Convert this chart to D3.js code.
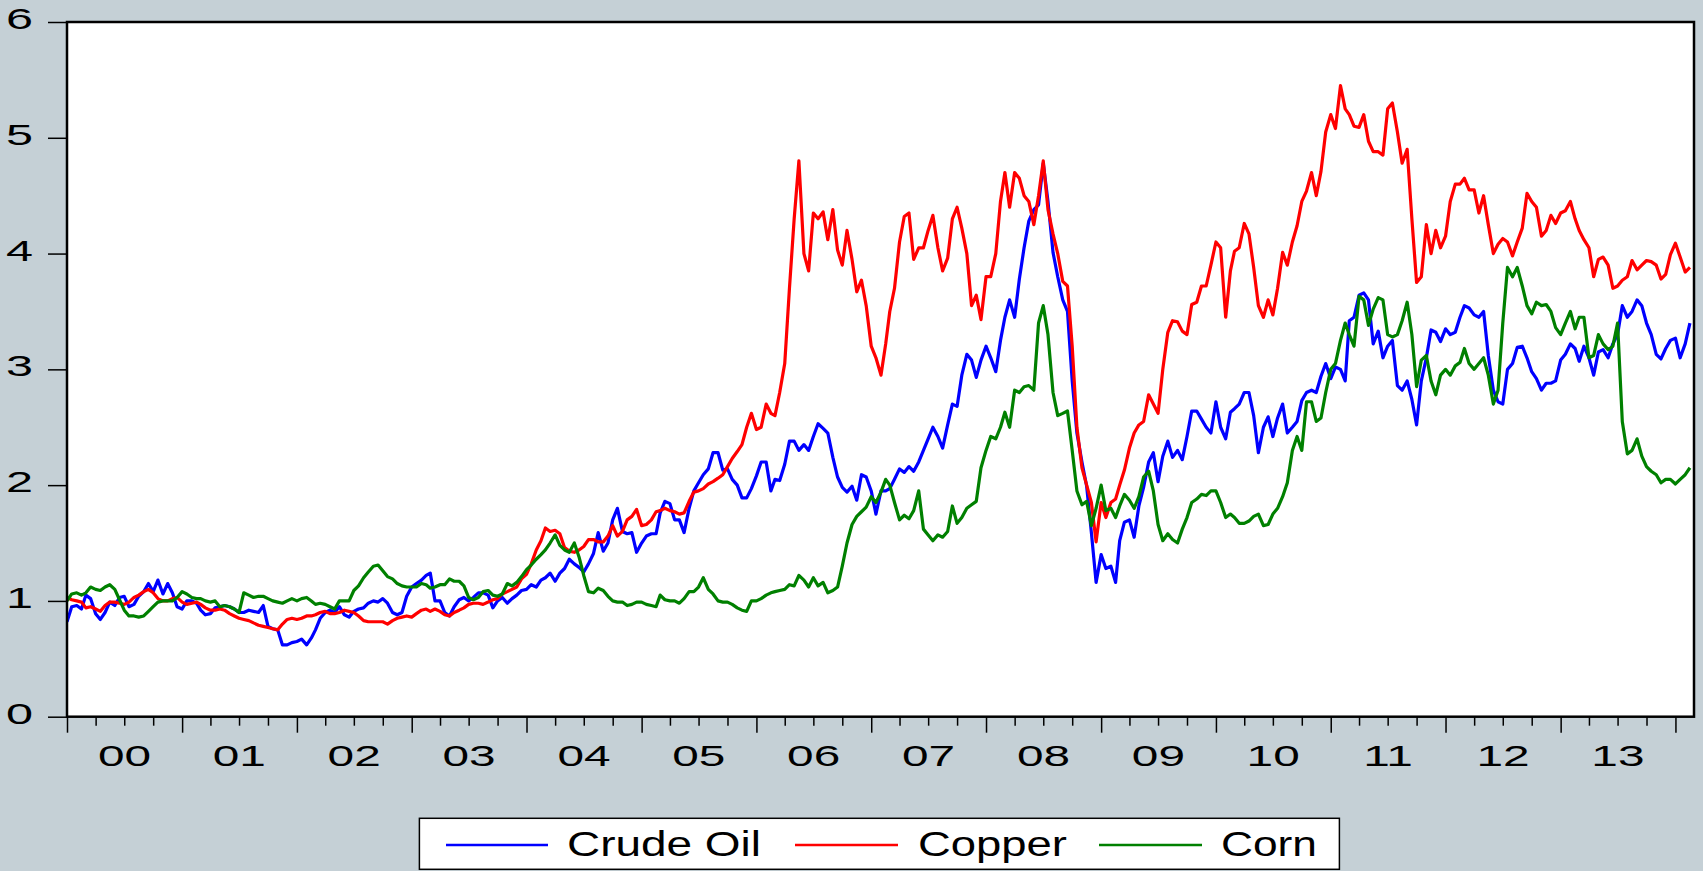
<!DOCTYPE html>
<html><head><meta charset="utf-8">
<script src="https://cdn.jsdelivr.net/npm/d3@7"></script>
<style>html,body{margin:0;padding:0;background:#c5d0d6;}svg{display:block;}</style>
</head><body><svg id="chart" width="1703" height="871"></svg>
<script>
// ---- data: semi-monthly readings (1st and 16th of each month), one row per year ----
const years = [2000,2001,2002,2003,2004,2005,2006,2007,2008,2009,2010,2011,2012,2013,2014];
const yTicks = [0,1,2,3,4,5,6];
const yearLabels = ["00","01","02","03","04","05","06","07","08","09","10","11","12","13"];
const seriesNames = ["Crude Oil","Copper","Corn"];
const seriesColors = ["#0000ff","#ff0000","#008000"];

const crudeOil = [
 [0.82,0.95,0.96,0.93,1.05,1.02,0.89,0.84,0.9,0.99,0.96,1.03,1.04,0.95,0.97,1.04,1.08,1.15,1.08,1.18,1.06,1.15,1.07,0.95],
 [0.93,1.0,1.0,0.98,0.92,0.88,0.89,0.94,0.95,0.96,0.95,0.93,0.9,0.9,0.92,0.91,0.9,0.96,0.78,0.76,0.75,0.62,0.62,0.64],
 [0.65,0.67,0.62,0.68,0.75,0.85,0.9,0.92,0.9,0.95,0.88,0.86,0.91,0.93,0.94,0.98,1.0,0.99,1.02,0.98,0.9,0.88,0.9,1.04],
 [1.12,1.15,1.18,1.22,1.24,1.0,1.0,0.9,0.87,0.95,1.01,1.03,1.0,1.03,1.07,1.07,1.05,0.94,1.0,1.03,0.98,1.02,1.05,1.09],
 [1.1,1.14,1.12,1.18,1.2,1.24,1.17,1.24,1.28,1.36,1.32,1.29,1.25,1.32,1.41,1.59,1.43,1.5,1.7,1.8,1.6,1.58,1.59,1.42],
 [1.5,1.56,1.58,1.58,1.76,1.86,1.84,1.7,1.7,1.59,1.8,1.95,2.02,2.09,2.14,2.28,2.28,2.13,2.14,2.05,2.0,1.89,1.89,1.97],
 [2.08,2.2,2.2,1.95,2.05,2.04,2.18,2.38,2.38,2.3,2.35,2.3,2.42,2.53,2.49,2.45,2.24,2.07,1.98,1.94,1.99,1.87,2.09,2.07],
 [1.95,1.75,1.95,1.95,1.97,2.05,2.14,2.11,2.16,2.12,2.2,2.3,2.4,2.5,2.42,2.32,2.52,2.7,2.68,2.95,3.13,3.08,2.93,3.08],
 [3.2,3.1,2.98,3.25,3.45,3.6,3.45,3.78,4.05,4.28,4.38,4.42,4.78,4.45,4.01,3.8,3.6,3.5,2.9,2.45,2.2,1.99,1.59,1.16],
 [1.4,1.28,1.3,1.16,1.52,1.68,1.7,1.55,1.82,1.98,2.2,2.28,2.03,2.25,2.38,2.24,2.3,2.22,2.42,2.64,2.64,2.57,2.5,2.45],
 [2.72,2.5,2.4,2.63,2.66,2.7,2.8,2.8,2.6,2.28,2.5,2.59,2.42,2.58,2.7,2.45,2.5,2.55,2.73,2.8,2.82,2.8,2.94,3.05],
 [2.92,3.02,3.0,2.9,3.42,3.45,3.64,3.66,3.6,3.22,3.33,3.1,3.2,3.25,2.86,2.82,2.9,2.74,2.52,2.9,3.1,3.34,3.32,3.24],
 [3.35,3.3,3.32,3.45,3.55,3.53,3.47,3.45,3.5,3.12,2.82,2.72,2.7,3.0,3.05,3.19,3.2,3.1,2.98,2.92,2.82,2.88,2.88,2.9],
 [3.08,3.13,3.22,3.18,3.07,3.2,3.1,2.95,3.15,3.17,3.1,3.22,3.3,3.55,3.45,3.5,3.6,3.55,3.4,3.3,3.13,3.09,3.18,3.25],
 [3.27,3.1,3.22,3.4]
];
const copper = [
 [1.03,1.01,1.0,0.99,0.94,0.95,0.93,0.91,0.96,0.99,0.99,0.98,0.97,0.99,1.03,1.05,1.08,1.1,1.07,1.02,1.0,1.0,1.02,1.03],
 [0.99,0.97,0.98,0.99,0.97,0.94,0.92,0.92,0.93,0.92,0.89,0.87,0.85,0.84,0.83,0.81,0.79,0.78,0.77,0.76,0.75,0.8,0.84,0.85],
 [0.84,0.85,0.87,0.87,0.88,0.9,0.91,0.89,0.89,0.9,0.92,0.91,0.9,0.87,0.83,0.82,0.82,0.82,0.82,0.8,0.83,0.85,0.86,0.87],
 [0.86,0.89,0.92,0.93,0.91,0.93,0.91,0.88,0.87,0.9,0.92,0.94,0.97,0.98,0.98,0.97,0.99,1.01,1.02,1.06,1.08,1.1,1.12,1.19],
 [1.23,1.32,1.44,1.52,1.63,1.6,1.61,1.58,1.46,1.43,1.42,1.44,1.47,1.53,1.53,1.51,1.51,1.56,1.65,1.56,1.6,1.7,1.73,1.79],
 [1.65,1.66,1.7,1.77,1.78,1.8,1.78,1.77,1.75,1.76,1.86,1.94,1.95,1.97,2.01,2.03,2.06,2.09,2.16,2.23,2.29,2.35,2.5,2.62],
 [2.48,2.5,2.7,2.62,2.6,2.8,3.05,3.7,4.3,4.8,4.0,3.85,4.35,4.3,4.36,4.12,4.38,4.03,3.9,4.2,3.95,3.67,3.77,3.55],
 [3.2,3.1,2.95,3.22,3.5,3.7,4.1,4.32,4.35,3.95,4.05,4.05,4.2,4.33,4.05,3.85,3.96,4.3,4.4,4.22,4.0,3.55,3.64,3.43],
 [3.8,3.8,4.0,4.45,4.7,4.4,4.7,4.65,4.5,4.45,4.25,4.5,4.8,4.38,4.17,4.0,3.76,3.72,3.2,2.5,2.15,2.0,1.85,1.51],
 [1.85,1.72,1.85,1.88,2.0,2.13,2.32,2.45,2.52,2.55,2.78,2.7,2.62,3.0,3.32,3.42,3.41,3.33,3.3,3.56,3.58,3.72,3.72,3.9],
 [4.1,4.05,3.45,3.85,4.02,4.05,4.26,4.17,3.88,3.55,3.45,3.6,3.47,3.7,4.01,3.9,4.1,4.24,4.45,4.54,4.7,4.5,4.71,5.05],
 [5.2,5.08,5.45,5.25,5.2,5.1,5.09,5.2,4.97,4.88,4.88,4.85,5.25,5.3,5.05,4.78,4.9,4.3,3.75,3.8,4.25,4.0,4.2,4.05],
 [4.15,4.45,4.6,4.6,4.65,4.55,4.55,4.35,4.5,4.25,4.0,4.08,4.13,4.1,3.98,4.1,4.22,4.52,4.45,4.4,4.15,4.2,4.33,4.26],
 [4.35,4.37,4.45,4.3,4.2,4.12,4.05,3.8,3.95,3.97,3.9,3.7,3.72,3.77,3.8,3.94,3.86,3.9,3.94,3.93,3.9,3.78,3.82,3.99],
 [4.09,3.97,3.84,3.88]
];
const corn = [
 [1.0,1.06,1.07,1.05,1.07,1.12,1.1,1.09,1.12,1.14,1.1,1.01,0.92,0.87,0.87,0.86,0.87,0.91,0.95,0.99,1.0,1.0,1.0,1.03],
 [1.08,1.06,1.03,1.02,1.02,1.0,0.99,1.0,0.95,0.96,0.95,0.93,0.9,1.07,1.05,1.03,1.04,1.04,1.02,1.0,0.99,0.98,1.0,1.02],
 [1.0,1.02,1.03,1.0,0.97,0.98,0.97,0.95,0.93,1.0,1.0,1.0,1.09,1.13,1.2,1.25,1.3,1.31,1.26,1.21,1.19,1.15,1.13,1.12],
 [1.12,1.12,1.15,1.14,1.11,1.12,1.14,1.14,1.19,1.17,1.17,1.13,1.03,1.01,1.03,1.08,1.09,1.05,1.04,1.06,1.15,1.13,1.16,1.21],
 [1.27,1.31,1.36,1.4,1.44,1.5,1.57,1.48,1.44,1.42,1.5,1.38,1.22,1.08,1.07,1.11,1.09,1.04,1.0,0.99,0.99,0.96,0.97,0.99],
 [0.99,0.97,0.96,0.95,1.05,1.01,1.0,1.0,0.98,1.02,1.08,1.08,1.12,1.2,1.1,1.06,1.0,0.99,0.99,0.97,0.94,0.92,0.91,1.0],
 [1.0,1.02,1.05,1.07,1.08,1.09,1.1,1.14,1.13,1.22,1.18,1.12,1.2,1.13,1.16,1.07,1.09,1.12,1.3,1.5,1.66,1.73,1.77,1.81],
 [1.9,1.85,1.94,2.05,2.0,1.85,1.7,1.74,1.71,1.78,1.95,1.62,1.57,1.52,1.57,1.55,1.6,1.82,1.67,1.72,1.8,1.83,1.86,2.15],
 [2.3,2.42,2.4,2.5,2.63,2.5,2.82,2.8,2.85,2.86,2.82,3.4,3.55,3.3,2.8,2.6,2.62,2.64,2.3,1.95,1.83,1.86,1.65,1.8],
 [2.0,1.78,1.8,1.72,1.82,1.92,1.87,1.8,1.9,2.07,2.12,1.95,1.66,1.52,1.58,1.53,1.5,1.62,1.72,1.85,1.88,1.92,1.91,1.95],
 [1.95,1.85,1.72,1.75,1.72,1.67,1.67,1.69,1.73,1.75,1.65,1.66,1.75,1.8,1.9,2.02,2.3,2.42,2.3,2.72,2.72,2.55,2.58,2.8],
 [3.0,3.05,3.25,3.4,3.3,3.2,3.63,3.6,3.38,3.52,3.62,3.6,3.3,3.28,3.3,3.42,3.58,3.3,2.85,3.08,3.12,2.9,2.78,2.95],
 [3.0,2.95,3.03,3.06,3.18,3.05,3.0,3.05,3.1,2.95,2.7,2.82,3.4,3.88,3.8,3.88,3.72,3.55,3.48,3.58,3.55,3.56,3.5,3.36],
 [3.3,3.4,3.5,3.35,3.45,3.45,3.1,3.12,3.3,3.22,3.17,3.2,3.4,2.55,2.27,2.3,2.4,2.25,2.16,2.12,2.09,2.02,2.05,2.05],
 [2.01,2.05,2.09,2.15]
];

// ---- build points ----
function toPoints(rows){
  const pts = [];
  rows.forEach((row, yi) => row.forEach((v, i) => {
    pts.push({date: new Date(years[yi], Math.floor(i/2), i % 2 ? 16 : 1), value: v});
  }));
  return pts;
}
const series = [crudeOil, copper, corn].map((rows, i) => ({name: seriesNames[i], color: seriesColors[i], points: toPoints(rows)}));

// ---- layout ----
const W = 1703, H = 871;
const P = {left: 67, top: 22, right: 1694, bottom: 716.7};
const FONT = "'Liberation Sans', Arial, Helvetica, sans-serif";
const SX = 1.62; // horizontal stretch of axis labels

const svg = d3.select("#chart");
svg.append("rect").attr("width", W).attr("height", H).attr("fill", "#c5d0d6");

const x = d3.scaleTime().domain([new Date(2000,0,1), new Date(2014,2,1)]).range([P.left, P.right]);
const y = d3.scaleLinear().domain([0, 6]).range([P.bottom, P.top]);

svg.append("rect").attr("x", P.left).attr("y", P.top)
  .attr("width", P.right - P.left).attr("height", P.bottom - P.top).attr("fill", "#ffffff");

svg.append("clipPath").attr("id", "clip").append("rect")
  .attr("x", P.left).attr("y", P.top).attr("width", P.right - P.left).attr("height", P.bottom - P.top);

const line = d3.line().x(d => x(d.date)).y(d => y(d.value));
svg.append("g").attr("clip-path", "url(#clip)")
  .selectAll("path").data(series).join("path")
  .attr("d", d => line(d.points))
  .attr("fill", "none").attr("stroke", d => d.color)
  .attr("stroke-width", 3.2).attr("stroke-linejoin", "round");

// ---- y axis ----
const yAxis = svg.append("g").attr("transform", `translate(${P.left},0)`)
  .call(d3.axisLeft(y).tickValues(yTicks).tickSize(19).tickPadding(0).tickFormat(d3.format("d")));
yAxis.select(".domain").remove();
yAxis.selectAll(".tick line").attr("stroke", "#000").attr("stroke-width", 1.5);
yAxis.selectAll(".tick text")
  .attr("font-family", FONT).attr("font-size", 30).attr("fill", "#000")
  .attr("text-anchor", "end").attr("x", -34 / SX).attr("y", -4).attr("dy", "0.35em")
  .attr("transform", `scale(${SX},1)`);

// ---- x axis: year ticks, quarter ticks, centred year labels ----
const yearStarts = years.map(yr => new Date(yr, 0, 1));
const quarterTicks = d3.timeMonth.every(3).range(new Date(2000,0,1), new Date(2014,2,1)).filter(d => d.getMonth() !== 0);
const xMajor = svg.append("g").attr("transform", `translate(0,${P.bottom})`)
  .call(d3.axisBottom(x).tickValues(yearStarts).tickSize(16).tickFormat(""));
const xMinor = svg.append("g").attr("transform", `translate(0,${P.bottom})`)
  .call(d3.axisBottom(x).tickValues(quarterTicks).tickSize(9).tickFormat(""));
[xMajor, xMinor].forEach(g => {
  g.select(".domain").remove();
  g.selectAll(".tick line").attr("stroke", "#000").attr("stroke-width", 1.5);
});
svg.append("g").selectAll("text").data(yearLabels).join("text")
  .attr("transform", (d, i) => `translate(${x(new Date(years[i], 6, 2))},766) scale(${SX},1)`)
  .attr("text-anchor", "middle").attr("font-family", FONT).attr("font-size", 29.5).attr("fill", "#000")
  .text(d => d);

// ---- frame ----
svg.append("rect").attr("x", P.left).attr("y", P.top)
  .attr("width", P.right - P.left).attr("height", P.bottom - P.top)
  .attr("fill", "none").attr("stroke", "#000").attr("stroke-width", 2.5);

// ---- legend ----
const legend = svg.append("g");
legend.append("rect").attr("x", 419.4).attr("y", 818.3).attr("width", 920).attr("height", 51)
  .attr("fill", "#fff").attr("stroke", "#000").attr("stroke-width", 1.5);
const legendLayout = [
  {x1: 446, x2: 548, tx: 567, tw: 194},
  {x1: 795, x2: 898, tx: 918, tw: 149},
  {x1: 1099, x2: 1202, tx: 1221, tw: 96}
];
series.forEach((s, i) => {
  const L = legendLayout[i];
  legend.append("line").attr("x1", L.x1).attr("x2", L.x2).attr("y1", 845).attr("y2", 845)
    .attr("stroke", s.color).attr("stroke-width", 2.7);
  legend.append("text").attr("x", L.tx).attr("y", 855.5)
    .attr("font-family", FONT).attr("font-size", 35).attr("fill", "#000")
    .attr("textLength", L.tw).attr("lengthAdjust", "spacingAndGlyphs")
    .text(s.name);
});
</script>
</body></html>
